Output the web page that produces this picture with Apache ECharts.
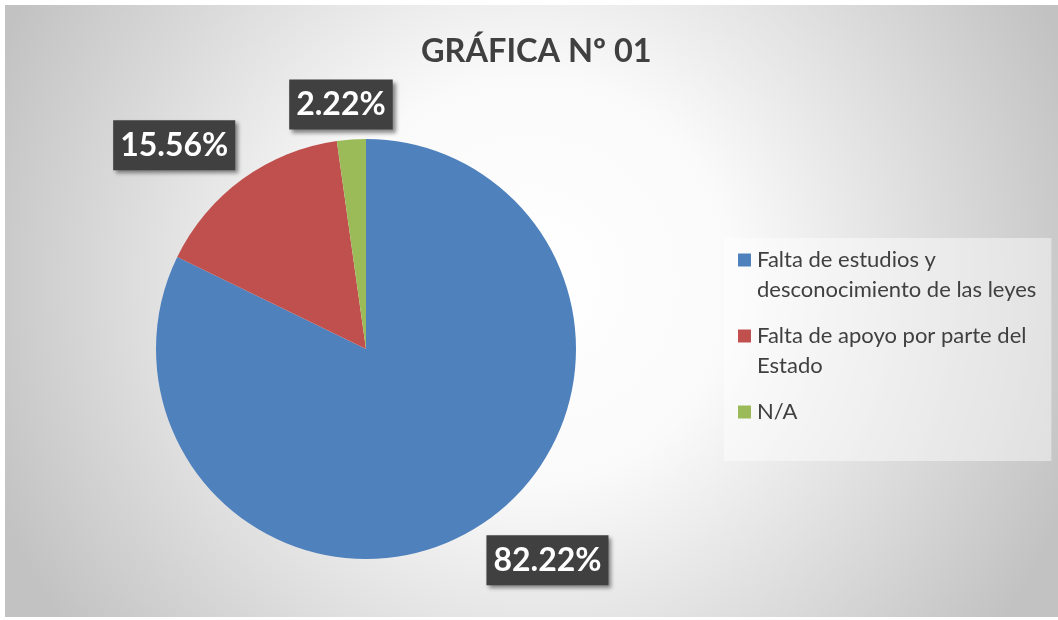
<!DOCTYPE html>
<html>
<head>
<meta charset="utf-8">
<script src="https://cdn.jsdelivr.net/npm/echarts@6/dist/echarts.min.js"></script>
<style>
html,body{margin:0;padding:0;background:#ffffff;}
#chart{position:absolute;left:5px;top:5px;width:1053px;height:612px;}
</style>
</head>
<body>
<div id="chart"></div>
<script>
const titleText = 'GRÁFICA Nº 01';
const categories = ['Falta de estudios y desconocimiento de las leyes', 'Falta de apoyo por parte del Estado', 'N/A'];
const legendLabelLines = [['Falta de estudios y', 'desconocimiento de las leyes'], ['Falta de apoyo por parte del', 'Estado'], ['N/A']];
const values = [82.22, 15.56, 2.22];
const colors = ['#4f81bd', '#c0504d', '#9bbb59'];

// label nudges (layout only)
const labelNudge = [[-16, 1], [20, -3], [49, 3]];

const rich = {
  t: { fontFamily: 'Lato', fontSize: 22, color: '#404040', lineHeight: 30, padding: [0, 0, 0, 6] },
  pad: { width: 13, height: 13 }
};
colors.forEach((c, i) => { rich['sq' + i] = { width: 13, height: 13, backgroundColor: c }; });

const chart = echarts.init(document.getElementById('chart'), null, { renderer: 'canvas' });
chart.setOption({
  animation: false,
  backgroundColor: {
    type: 'radial', x: 0.5, y: 0.45, r: 0.95,
    colorStops: [{ offset: 0, color: '#ffffff' }, { offset: 0.35, color: '#fafafa' }, { offset: 1, color: '#c2c2c2' }]
  },
  title: {
    text: titleText, left: 411, top: 25,
    textStyle: { fontFamily: 'Lato', fontWeight: 'bold', fontSize: 32.5, color: '#404040' }
  },
  legend: {
    orient: 'vertical', left: 719, top: 233,
    padding: [11, 15, 38, 9],
    backgroundColor: 'rgba(255,255,255,0.45)',
    itemGap: 24, itemWidth: 0, itemHeight: 0, icon: 'rect',
    selectedMode: false,
    data: categories,
    formatter: function (name) {
      const i = categories.indexOf(name);
      const lines = legendLabelLines[i];
      let s = '{sq' + i + '|}{t|' + lines[0] + '}';
      for (let k = 1; k < lines.length; k++) s += '\n{pad|}{t|' + lines[k] + '}';
      return s;
    },
    textStyle: { rich: rich }
  },
  series: [{
    type: 'pie',
    center: [361, 344],
    radius: 210,
    startAngle: 90,
    clockwise: true,
    avoidLabelOverlap: false,
    data: categories.map((n, i) => ({ name: n, value: values[i], itemStyle: { color: colors[i] } })),
    label: {
      show: true,
      position: 'outside',
      formatter: p => values[p.dataIndex].toFixed(2) + '%',
      fontFamily: 'Lato', fontWeight: 'bold', fontSize: 32, color: '#ffffff',
      backgroundColor: '#404040',
      padding: [9, 7, 9, 7],
      shadowColor: 'rgba(0,0,0,0.45)', shadowBlur: 4, shadowOffsetX: 3, shadowOffsetY: 3
    },
    labelLine: { show: false, length: 38, length2: 0 },
    labelLayout: function (p) {
      return { dx: labelNudge[p.dataIndex][0], dy: labelNudge[p.dataIndex][1] };
    },
    emphasis: { disabled: true }
  }]
});
</script>
</body>
</html>
